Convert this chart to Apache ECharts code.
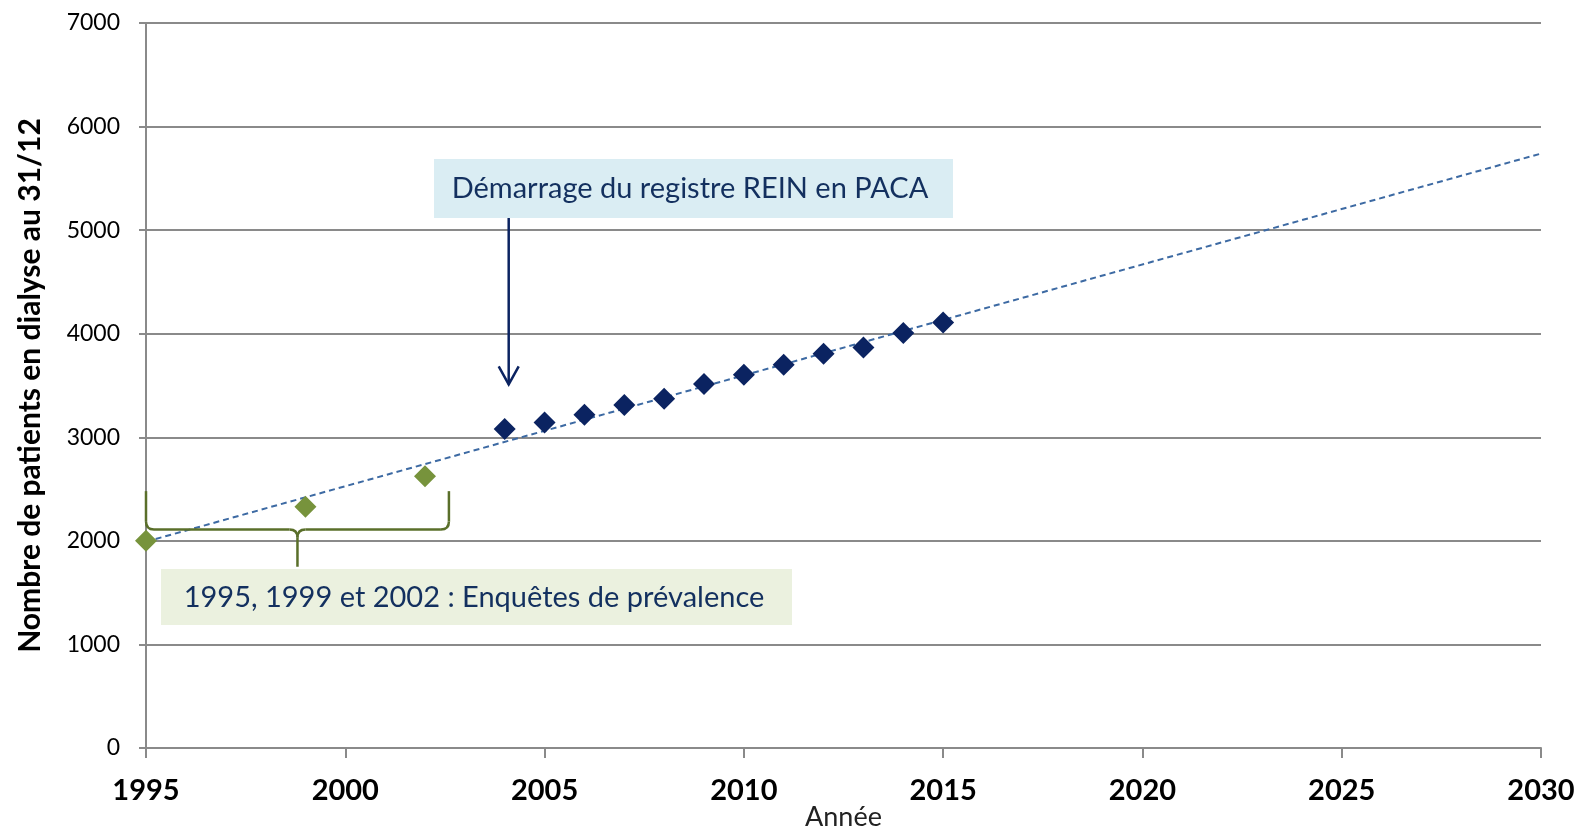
<!DOCTYPE html>
<html>
<head>
<meta charset="utf-8">
<script src="https://cdn.jsdelivr.net/npm/echarts@6/dist/echarts.min.js"></script>
<style>
html,body{margin:0;padding:0;background:#fff;}
#chart{width:1579px;height:829px;}
</style>
</head>
<body>
<div id="chart"></div>
<script>
// ---- data ----
const surveyYears = [1995, 1999, 2002];
const surveyValues = [2000, 2330, 2625];
const registryYears = [2004, 2005, 2006, 2007, 2008, 2009, 2010, 2011, 2012, 2013, 2014, 2015];
const registryValues = [3080, 3143, 3217, 3311, 3372, 3514, 3604, 3700, 3807, 3868, 4007, 4109];
const xRange = [1995, 2030];
const yTicks = [0, 1000, 2000, 3000, 4000, 5000, 6000, 7000];
const xTitle = 'Année';
const yTitle = 'Nombre de patients en dialyse au 31/12';
const noteRegistry = 'Démarrage du registre REIN en PACA';
const noteSurvey = '1995, 1999 et 2002 : Enquêtes de prévalence';

// linear trend (least squares) over all points
const allX = surveyYears.concat(registryYears);
const allY = surveyValues.concat(registryValues);
const n = allX.length;
const mx = allX.reduce((a, b) => a + b, 0) / n;
const my = allY.reduce((a, b) => a + b, 0) / n;
let sxy = 0, sxx = 0;
for (let i = 0; i < n; i++) { sxy += (allX[i] - mx) * (allY[i] - my); sxx += (allX[i] - mx) * (allX[i] - mx); }
const slope = sxy / sxx;
const icpt = my - slope * mx;
const trend = xRange.map(x => [x, icpt + slope * x]);

const FONT = 'Lato';
const NAVY = '#0b2361';
const GREEN = '#77933c';
const TEXTNAVY = '#13305f';
const BRACE = '#5a6f2a';

const chart = echarts.init(document.getElementById('chart'));
chart.setOption({
  animation: false,
  textStyle: { fontFamily: FONT },
  grid: { left: 146, right: 38, top: 23, bottom: 81, containLabel: false, outerBoundsMode: 'none' },
  xAxis: {
    type: 'value', min: xRange[0], max: xRange[1], interval: 5,
    name: xTitle, nameLocation: 'middle', nameGap: 56, nameMoveOverlap: false,
    nameTextStyle: { fontSize: 27, color: '#222', fontFamily: FONT },
    axisLine: { show: true, lineStyle: { color: '#8a8a8a', width: 2 } },
    axisTick: { show: true, length: 10, lineStyle: { color: '#8a8a8a', width: 2 } },
    axisLabel: { fontSize: 29, fontWeight: 'bold', color: '#000', margin: 28, fontFamily: FONT, formatter: v => String(v) },
    splitLine: { show: false }
  },
  yAxis: {
    type: 'value', min: yTicks[0], max: yTicks[yTicks.length - 1], interval: 1000,
    name: yTitle, nameLocation: 'middle', nameGap: 101, nameRotate: 90, nameMoveOverlap: false,
    nameTextStyle: { fontSize: 30, fontWeight: 'bold', color: '#000', fontFamily: FONT },
    axisLine: { show: true, lineStyle: { color: '#8a8a8a', width: 2 } },
    axisTick: { show: true, length: 7, lineStyle: { color: '#8a8a8a', width: 2 } },
    axisLabel: { fontSize: 23, color: '#000', margin: 26, fontFamily: FONT, formatter: v => String(v) },
    splitLine: { show: true, lineStyle: { color: '#8a8a8a', width: 2 } }
  },
  series: [
    {
      type: 'line', data: trend, showSymbol: false, symbol: 'none', z: 2,
      lineStyle: { color: '#3d6aa3', width: 2, type: [6, 4] }, silent: true
    },
    {
      type: 'scatter', data: registryYears.map((x, i) => [x, registryValues[i]]),
      symbol: 'diamond', symbolSize: 22, z: 3, itemStyle: { color: NAVY, opacity: 1 }
    },
    {
      type: 'scatter', data: surveyYears.map((x, i) => [x, surveyValues[i]]),
      symbol: 'diamond', symbolSize: 22, z: 3, itemStyle: { color: GREEN, opacity: 1 }
    }
  ]
});

// annotations anchored to data coordinates
function px(x, y) { return chart.convertToPixel({ gridIndex: 0 }, [x, y]); }
const aTop = px(2004.1, 5117), aTip = px(2004.1, 3510);
const bL = px(1995, 0)[0], bR = px(2002.6, 0)[0], bC = (bL + bR) / 2;
const bTop = px(1995, 2480)[1], bMid = px(1995, 2110)[1], bBot = px(1995, 1750)[1];
const r = 8;
const lineSt = { stroke: BRACE, lineWidth: 2.5, fill: null };
const g = [];
// registry box
g.push({ type: 'rect', shape: { x: 434, y: 159, width: 519, height: 59 }, style: { fill: '#daedf3' }, z: 10 });
g.push({ type: 'text', x: 690, y: 189, style: { text: noteRegistry, fontSize: 29, fontFamily: FONT, fill: TEXTNAVY, align: 'center', verticalAlign: 'middle', textAlign: 'center', textVerticalAlign: 'middle' }, z: 11 });
// arrow
g.push({ type: 'line', shape: { x1: aTop[0], y1: aTop[1], x2: aTip[0], y2: aTip[1] }, style: { stroke: NAVY, lineWidth: 2.5 }, z: 10 });
g.push({ type: 'polyline', shape: { points: [[aTip[0] - 10, aTip[1] - 18], [aTip[0], aTip[1]], [aTip[0] + 10, aTip[1] - 18]] }, style: { stroke: NAVY, lineWidth: 2.5, fill: null }, z: 10 });
// survey box
g.push({ type: 'rect', shape: { x: 161, y: 569, width: 631, height: 56 }, style: { fill: '#ebf1df' }, z: 10 });
g.push({ type: 'text', x: 474, y: 598, style: { text: noteSurvey, fontSize: 29, fontFamily: FONT, fill: TEXTNAVY, align: 'center', verticalAlign: 'middle', textAlign: 'center', textVerticalAlign: 'middle' }, z: 11 });
// brace
g.push({ type: 'line', shape: { x1: bL, y1: bTop, x2: bL, y2: bMid - r }, style: lineSt, z: 9 });
g.push({ type: 'bezierCurve', shape: { x1: bL, y1: bMid - r, cpx1: bL, cpy1: bMid, x2: bL + r, y2: bMid }, style: lineSt, z: 9 });
g.push({ type: 'line', shape: { x1: bL + r, y1: bMid, x2: bC - r, y2: bMid }, style: lineSt, z: 9 });
g.push({ type: 'bezierCurve', shape: { x1: bC - r, y1: bMid, cpx1: bC, cpy1: bMid, x2: bC, y2: bMid + r }, style: lineSt, z: 9 });
g.push({ type: 'bezierCurve', shape: { x1: bC + r, y1: bMid, cpx1: bC, cpy1: bMid, x2: bC, y2: bMid + r }, style: lineSt, z: 9 });
g.push({ type: 'line', shape: { x1: bC + r, y1: bMid, x2: bR - r, y2: bMid }, style: lineSt, z: 9 });
g.push({ type: 'bezierCurve', shape: { x1: bR - r, y1: bMid, cpx1: bR, cpy1: bMid, x2: bR, y2: bMid - r }, style: lineSt, z: 9 });
g.push({ type: 'line', shape: { x1: bR, y1: bMid - r, x2: bR, y2: bTop }, style: lineSt, z: 9 });
g.push({ type: 'line', shape: { x1: bC, y1: bMid + r, x2: bC, y2: bBot }, style: lineSt, z: 9 });
chart.setOption({ graphic: g });
</script>
</body>
</html>
